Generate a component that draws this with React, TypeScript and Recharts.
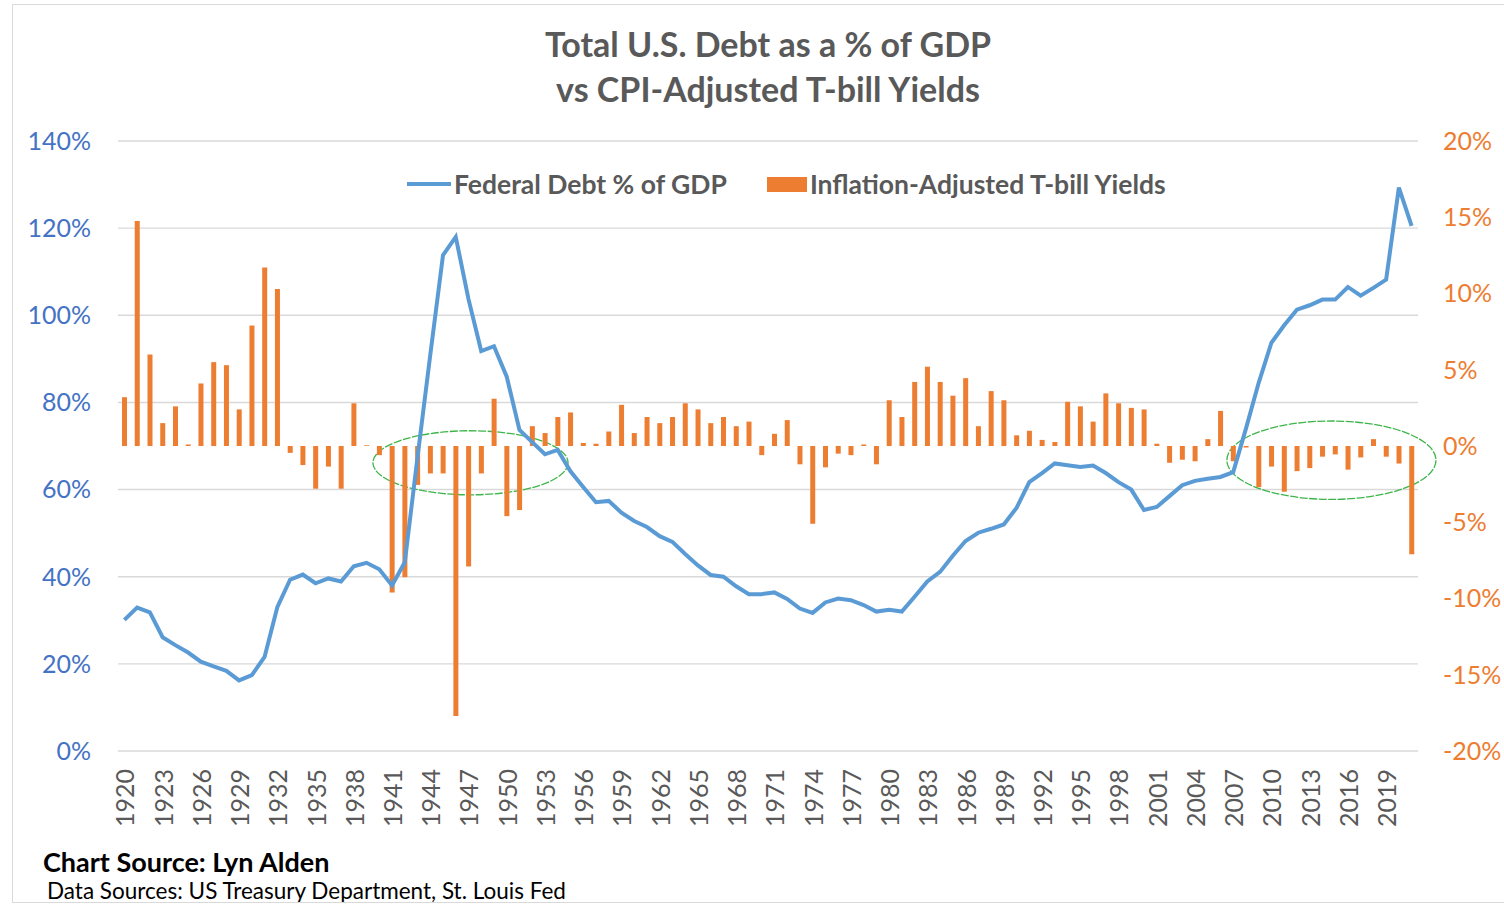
import { ComposedChart, Bar, Line, XAxis, YAxis, CartesianGrid, Legend, ReferenceArea } from 'recharts';

const FONT = 'Lato, "Open Sans", sans-serif';

const years = [
  '1920', '1921', '1922', '1923', '1924', '1925', '1926', '1927', '1928', '1929',
  '1930', '1931', '1932', '1933', '1934', '1935', '1936', '1937', '1938', '1939',
  '1940', '1941', '1942', '1943', '1944', '1945', '1946', '1947', '1948', '1949',
  '1950', '1951', '1952', '1953', '1954', '1955', '1956', '1957', '1958', '1959',
  '1960', '1961', '1962', '1963', '1964', '1965', '1966', '1967', '1968', '1969',
  '1970', '1971', '1972', '1973', '1974', '1975', '1976', '1977', '1978', '1979',
  '1980', '1981', '1982', '1983', '1984', '1985', '1986', '1987', '1988', '1989',
  '1990', '1991', '1992', '1993', '1994', '1995', '1996', '1997', '1998', '1999',
  '2000', '2001', '2002', '2003', '2004', '2005', '2006', '2007', '2008', '2009',
  '2010', '2011', '2012', '2013', '2014', '2015', '2016', '2017', '2018', '2019',
  '2020', '2021',
];

// Federal debt as % of GDP (left axis)
const debtPct = [
  30.1, 32.9, 31.8, 26.1, 24.3, 22.6, 20.5, 19.4, 18.4, 16.2,
  17.4, 21.6, 33.0, 39.3, 40.5, 38.5, 39.6, 38.9, 42.4, 43.2,
  41.7, 38.0, 43.3, 67.4, 90.9, 113.8, 118.0, 103.7, 91.8, 92.9,
  85.9, 73.7, 70.9, 68.1, 69.1, 64.2, 60.6, 57.1, 57.4, 54.7,
  52.8, 51.4, 49.3, 48.0, 45.2, 42.6, 40.4, 40.0, 37.8, 36.0,
  36.0, 36.4, 34.9, 32.7, 31.7, 34.1, 35.0, 34.6, 33.5, 32.0,
  32.4, 32.0, 35.4, 38.9, 41.1, 44.8, 48.2, 50.1, 51.0, 52.0,
  55.8, 61.7, 63.8, 66.0, 65.6, 65.2, 65.5, 63.8, 61.7, 60.0,
  55.3, 56.0, 58.5, 61.0, 62.0, 62.5, 62.9, 64.0, 74.0, 84.5,
  93.7, 97.7, 101.3, 102.3, 103.6, 103.6, 106.5, 104.5, 106.3, 108.2,
  129.3, 120.5,
];

// CPI-adjusted T-bill yield, % (right axis)
const realYield = [
  3.2, 14.75, 6.0, 1.5, 2.6, 0.1, 4.1, 5.5, 5.3, 2.4,
  7.9, 11.7, 10.3, -0.45, -1.25, -2.8, -1.35, -2.8, 2.8, 0.05,
  -0.6, -9.6, -8.6, -2.55, -1.8, -1.8, -17.7, -7.9, -1.8, 3.1,
  -4.6, -4.2, 1.3, 0.85, 1.9, 2.2, 0.2, 0.15, 0.95, 2.7,
  0.85, 1.9, 1.5, 1.9, 2.8, 2.4, 1.5, 1.9, 1.3, 1.6,
  -0.6, 0.8, 1.7, -1.2, -5.1, -1.4, -0.5, -0.6, 0.1, -1.2,
  3.0, 1.9, 4.2, 5.2, 4.2, 3.3, 4.45, 1.3, 3.6, 3.0,
  0.7, 1.0, 0.4, 0.26, 2.9, 2.6, 1.6, 3.45, 2.8, 2.5,
  2.4, 0.15, -1.1, -0.9, -1.0, 0.45, 2.3, -1.0, -0.1, -2.7,
  -1.35, -3.0, -1.65, -1.45, -0.7, -0.55, -1.55, -0.75, 0.45, -0.7,
  -1.15, -7.1,
];

const leftTicks = [0, 20, 40, 60, 80, 100, 120, 140];
const rightTicks = [-20, -15, -10, -5, 0, 5, 10, 15, 20];

const data = years.map((year, i) => ({ year, debt: debtPct[i], real: realYield[i] }));

const YearTick = ({ x, y, payload }: any) => (
  <text
    x={x}
    y={y}
    transform={`rotate(-90, ${x}, ${y})`}
    textAnchor="end"
    dominantBaseline="central"
    fill="#595959"
    fontSize={25}
    fontFamily={FONT}
  >
    {payload.value}
  </text>
);

const ellipseShape = (padRight: number) => (p: any) => (
  <ellipse
    cx={p.x + (p.width + padRight) / 2}
    cy={p.y + p.height / 2}
    rx={(p.width + padRight) / 2}
    ry={p.height / 2}
    fill="none"
    stroke="#3DB54A"
    strokeWidth={1.3}
    strokeDasharray="8 1.5"
  />
);

const LegendContent = ({ payload }: any) => {
  const items = [...(payload || [])].sort((a: any) => (a.type === 'line' ? -1 : 1));
  return (
    <div style={{ display: 'flex', alignItems: 'center', fontFamily: FONT, fontWeight: 700, fontSize: 26.5, color: '#595959', whiteSpace: 'nowrap' }}>
      {items.map((item: any, i: number) => (
        <div key={item.value} style={{ display: 'flex', alignItems: 'center', marginLeft: i === 0 ? 0 : 40 }}>
          {item.type === 'line' ? (
            <span style={{ display: 'inline-block', width: 44, height: 4, background: item.color, marginRight: 3 }} />
          ) : (
            <span style={{ display: 'inline-block', width: 40, height: 15, background: item.color, marginRight: 3 }} />
          )}
          <span>{item.value}</span>
        </div>
      ))}
    </div>
  );
};

const App = () => (
  <div
    style={{
      position: 'absolute',
      left: 12,
      top: 4,
      width: 1500,
      height: 899,
      boxSizing: 'border-box',
      border: '1px solid #D9D9D9',
      background: '#fff',
      overflow: 'hidden',
    }}
  >
    <div style={{ position: 'absolute', top: 19, left: 10, width: 1490, textAlign: 'center', fontFamily: FONT, fontWeight: 700, fontSize: 34, lineHeight: '40px', color: '#595959' }}>
      Total U.S. Debt as a % of GDP
    </div>
    <div style={{ position: 'absolute', top: 64, left: 10, width: 1490, textAlign: 'center', fontFamily: FONT, fontWeight: 700, fontSize: 34, lineHeight: '40px', color: '#595959' }}>
      vs CPI-Adjusted T-bill Yields
    </div>

    <div style={{ position: 'absolute', left: 0, top: 0 }}>
      <ComposedChart width={1491} height={826} data={data} margin={{ top: 136, right: 0, bottom: 0, left: 0 }}>
        <CartesianGrid yAxisId="left" vertical={false} stroke="#D9D9D9" strokeWidth={1.4} />
        <XAxis
          dataKey="year"
          interval={2}
          tickSize={0}
          tickMargin={18}
          axisLine={false}
          tickLine={false}
          height={80}
          tick={<YearTick />}
        />
        <YAxis
          yAxisId="left"
          orientation="left"
          domain={[0, 140]}
          ticks={leftTicks}
          width={105}
          tickSize={0}
          tickMargin={27}
          axisLine={false}
          tickLine={false}
          tickFormatter={(v) => `${v}%`}
          tick={{ fill: '#4472C4', fontSize: 25, fontFamily: FONT }}
        />
        <YAxis
          yAxisId="right"
          orientation="right"
          domain={[-20, 20]}
          ticks={rightTicks}
          width={86}
          tickSize={0}
          tickMargin={25}
          axisLine={false}
          tickLine={false}
          tickFormatter={(v) => `${v}%`}
          tick={{ fill: '#ED7D31', fontSize: 25, fontFamily: FONT, textAnchor: 'start' }}
        />
        <Legend
          layout="horizontal"
          align="center"
          verticalAlign="middle"
          wrapperStyle={{ left: 394, top: 163, width: 880 }}
          content={<LegendContent />}
        />
        <Bar
          yAxisId="right"
          dataKey="real"
          name="Inflation-Adjusted T-bill Yields"
          fill="#ED7D31"
          barSize={5}
          legendType="rect"
          isAnimationActive={false}
        />
        <Line
          yAxisId="left"
          type="linear"
          dataKey="debt"
          name="Federal Debt % of GDP"
          stroke="#5B9BD5"
          strokeWidth={4}
          dot={false}
          legendType="line"
          isAnimationActive={false}
        />
        <ReferenceArea
          yAxisId="right"
          x1="1940"
          x2="1954"
          y1={-3.2}
          y2={1.0}
          ifOverflow="visible"
          shape={ellipseShape(4)}
        />
        <ReferenceArea
          yAxisId="right"
          x1="2007"
          x2="2021"
          y1={-3.5}
          y2={1.64}
          ifOverflow="visible"
          shape={ellipseShape(18)}
        />
      </ComposedChart>
    </div>

    <div style={{ position: 'absolute', left: 30, top: 842, fontFamily: FONT, fontWeight: 700, fontSize: 27, lineHeight: '30px', color: '#000' }}>
      Chart Source: Lyn Alden
    </div>
    <div style={{ position: 'absolute', left: 34, top: 874, fontFamily: FONT, fontSize: 22.5, lineHeight: '24px', color: '#000' }}>
      Data Sources: US Treasury Department, St. Louis Fed
    </div>
  </div>
);

export default App;
